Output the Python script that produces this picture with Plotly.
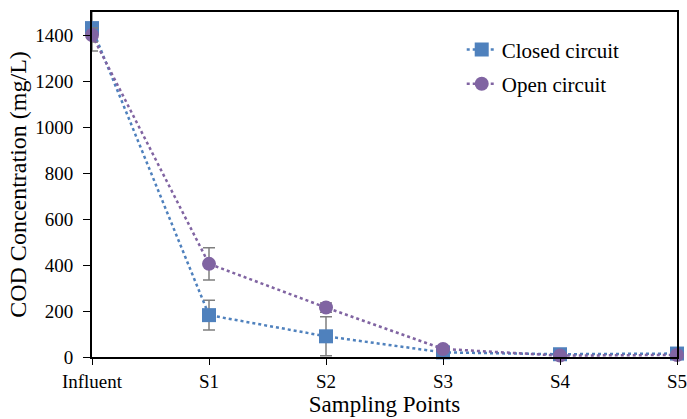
import plotly.graph_objects as go

categories = ["Influent", "S1", "S2", "S3", "S4", "S5"]
closed_vals = [1430, 182, 90, 20, 12, 15]
closed_err = [100, 65, 85, 5, 3, 3]
open_vals = [1400, 405, 215, 35, 6, 9]
open_err = [30, 70, 20, 5, 3, 3]

xpos = list(range(len(categories)))

fig = go.Figure()
fig.add_trace(go.Scatter(
    x=xpos, y=closed_vals, name="Closed circuit", mode="lines+markers",
    legendgroup="c",
    line=dict(color="#4F81BD", width=2.5, dash="dot"),
    marker=dict(symbol="square", size=14, color="#4F81BD"),
    error_y=dict(type="data", array=closed_err, color="#7F7F7F", thickness=1.5, width=6),
    cliponaxis=False,
))
fig.add_trace(go.Scatter(
    x=xpos, y=open_vals, name="Open circuit", mode="lines+markers",
    legendgroup="o",
    line=dict(color="#8064A2", width=2.5, dash="dot"),
    marker=dict(symbol="circle", size=14, color="#8064A2"),
    error_y=dict(type="data", array=open_err, color="#7F7F7F", thickness=1.5, width=6),
    cliponaxis=False,
))

font = "Liberation Serif, Times New Roman, serif"
fig.update_layout(
    width=687, height=419,
    margin=dict(l=92, r=10, t=12, b=62),
    paper_bgcolor="white", plot_bgcolor="white",
    font=dict(family=font, size=19, color="black"),
    showlegend=True,
    legend=dict(x=0.632, y=0.95, xanchor="left", yanchor="top",
                bgcolor="rgba(0,0,0,0)", font=dict(size=21), tracegroupgap=4),
    xaxis=dict(
        range=[0, 5], tickmode="array", tickvals=xpos, ticktext=categories,
        showgrid=False, zeroline=False, showline=True, linecolor="black", linewidth=2,
        mirror=True, ticks="outside", ticklen=6, tickcolor="black", automargin=False,
        ticklabeloverflow="allow",
        title=dict(text="Sampling Points", font=dict(size=23), standoff=0),
    ),
    yaxis=dict(
        range=[0, 1500], tickvals=[0, 200, 400, 600, 800, 1000, 1200, 1400],
        showgrid=False, zeroline=False, showline=True, linecolor="black", linewidth=2,
        mirror=True, ticks="outside", ticklen=7, tickcolor="black", automargin=False,
        ticklabelstandoff=6, ticklabeloverflow="allow",
        title=dict(text="COD Concentration (mg/L)", font=dict(size=24), standoff=2),
    ),
)
fig.write_html(
    "out.html",
    config={"displayModeBar": False},
    post_script="document.body.style.margin='0';document.body.style.overflow='hidden';",
)
